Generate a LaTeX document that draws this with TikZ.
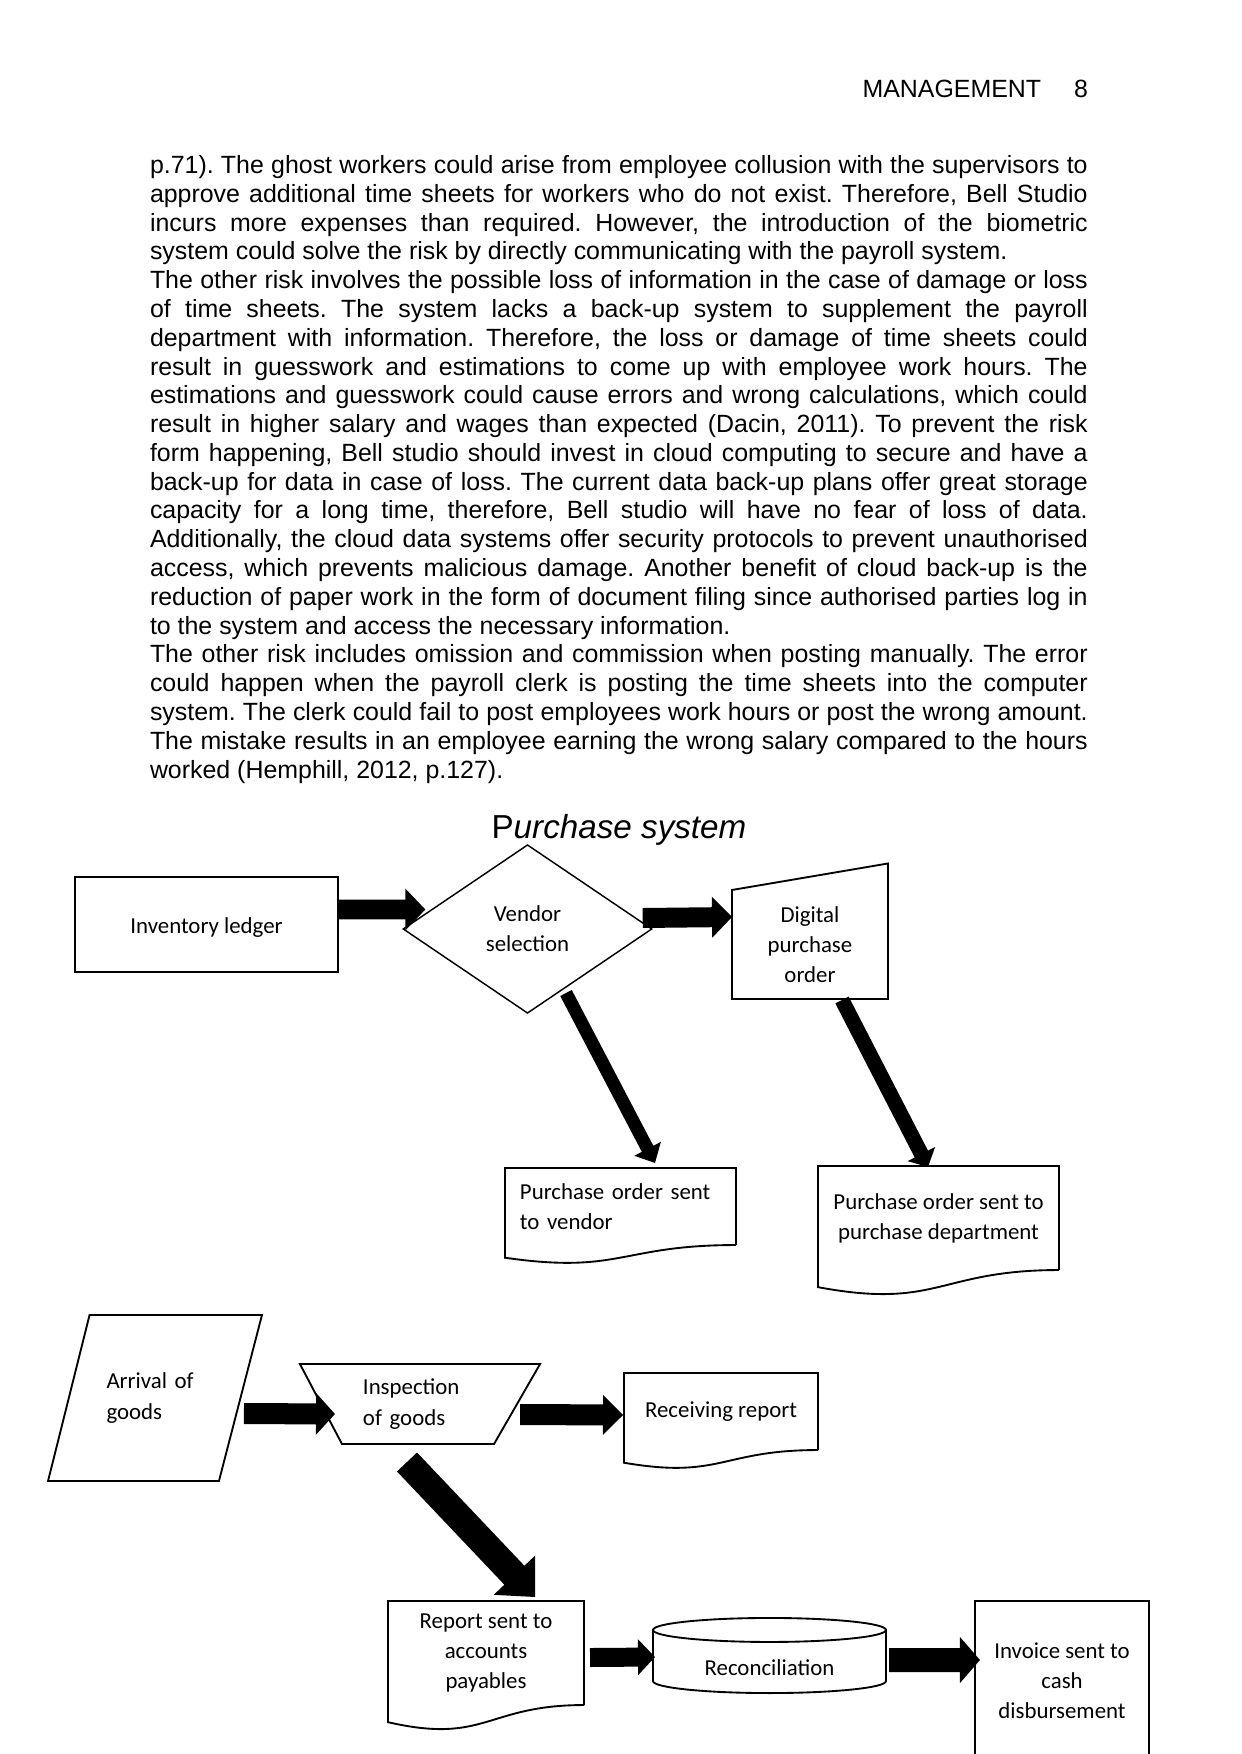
\documentclass[tikz,border=0pt]{standalone}
\usepackage{fontspec}
\setmainfont{Liberation Sans}
\newfontfamily\boxfont{Carlito}
\usetikzlibrary{shapes.geometric,calc}

% outlines drawn round plain nodes
\newcommand\docshape[1]{\draw[outline] (#1.south east) -- (#1.north east) -- (#1.north west)
  -- ($(#1.south west)!-0.1646!(#1.north west)$)
  .. controls ($(#1.south)!-0.3809!(#1.north)$) and (#1.south) .. (#1.south east);}
\newcommand\manualin[1]{\draw[outline] (#1.south west) -- (#1.north west)
  -- ($(#1.north east)+(0,-26.5)$) -- (#1.south east) -- cycle;}
\newcommand\cylshape[1]{\draw[outline] ($(#1.north)+(0,-12)$) ellipse [x radius=116.5,y radius=12];
  \draw[outline] ($(#1.north west)+(0,-12)$) -- ($(#1.south west)+(0,-12)$)
  arc[start angle=180,end angle=0,x radius=116.5,y radius=12] -- ($(#1.north east)+(0,-12)$);}
% fat arrow: start, tip, half shaft, half head, head length
\newcommand\blockarrow[5]{\path #1 coordinate (ba-s) #2 coordinate (ba-e);
  \path ($(ba-e)!#5!(ba-s)$) coordinate (ba-b);
  \fill ($(ba-s)!#3!90:(ba-e)$) -- ($(ba-b)!#3!90:(ba-e)$) -- ($(ba-b)!#4!90:(ba-e)$)
  -- (ba-e) -- ($(ba-b)!#4!-90:(ba-e)$) -- ($(ba-b)!#3!-90:(ba-e)$)
  -- ($(ba-s)!#3!-90:(ba-e)$) -- cycle;}

\begin{document}
\begin{tikzpicture}[x=0.48147pt,y=-0.48147pt,
  outline/.style={draw=black,line width=0.9pt},
  boxtxt/.style={font=\boxfont\fontsize{11pt}{14.5pt}\selectfont,align=center},
  every node/.style={inner sep=0pt,outer sep=0pt}]
\useasboundingbox (0,0) rectangle (1241,1754);
\clip (0,0) rectangle (1241,1754);
\fill[white] (0,0) rectangle (1241,1754);
\node[anchor=base east,font=\fontsize{12pt}{13.8pt}\selectfont] (head) at (1088,98)
 {MANAGEMENT\hspace{15.9pt}8};
\node[anchor=north west,text width=451.5pt,align=justify,
 font=\fontsize{12pt}{13.86pt}\selectfont] (body) at (150,153.4)
 {\parindent=0pt\parskip=0pt\hyphenpenalty=10000\exhyphenpenalty=10000\tolerance=10000
 \frenchspacing
 \strut p.71). The ghost workers could arise from employee collusion with the supervisors to\linebreak
 approve additional time sheets for workers who do not exist. Therefore, Bell Studio\linebreak
 incurs more expenses than required. However, the introduction of the biometric\linebreak
 system could solve the risk by directly communicating with the payroll system.\par
 The other risk involves the possible loss of information in the case of damage or loss\linebreak
 of time sheets. The system lacks a back-up system to supplement the payroll\linebreak
 department with information. Therefore, the loss or damage of time sheets could\linebreak
 result in guesswork and estimations to come up with employee work hours. The\linebreak
 estimations and guesswork could cause errors and wrong calculations, which could\linebreak
 result in higher salary and wages than expected (Dacin, 2011). To prevent the risk\linebreak
 form happening, Bell studio should invest in cloud computing to secure and have a\linebreak
 back-up for data in case of loss. The current data back-up plans offer great storage\linebreak
 capacity for a long time, therefore, Bell studio will have no fear of loss of data.\linebreak
 Additionally, the cloud data systems offer security protocols to prevent unauthorised\linebreak
 access, which prevents malicious damage. Another benefit of cloud back-up is the\linebreak
 reduction of paper work in the form of document filing since authorised parties log in\linebreak
 to the system and access the necessary information.\par
 The other risk includes omission and commission when posting manually. The error\linebreak
 could happen when the payroll clerk is posting the time sheets into the computer\linebreak
 system. The clerk could fail to post employees work hours or post the wrong amount.\linebreak
 The mistake results in an employee earning the wrong salary compared to the hours\linebreak
 worked (Hemphill, 2012, p.127).\par};
\node[anchor=base,font=\fontsize{16pt}{19pt}\selectfont] (title) at (619,838)
 {P\textit{urchase system}};
% purchase side
\node[boxtxt,outline,minimum width=126.6pt,minimum height=45.7pt,text height=11pt,
 text depth=2.5pt] (inv) at (206.5,924.5) {Inventory ledger};
\node[boxtxt,outline,line width=0.7pt,diamond,minimum width=119.6pt,minimum height=80.9pt]
 (vsel) at (527.5,929) {Vendor\\selection};
\node[boxtxt,minimum width=75.1pt,minimum height=52.5pt] (dpo) at (810,944.5)
 {Digital\\purchase\\order};
\node[boxtxt,minimum width=111.2pt,minimum height=37.1pt,text width=96.8pt,align=left]
 (posv) at (620.5,1206.5) {Purchase order sent\\to vendor};
\node[boxtxt,minimum width=116pt,minimum height=50.1pt] (posd) at (938.5,1218)
 {Purchase order sent to\\purchase department};
\manualin{dpo}
\docshape{posv}
\docshape{posd}
% receiving side
\node[boxtxt,minimum width=103pt,minimum height=79.9pt,text width=46.7pt,align=left]
 (arr) at (155,1398) {Arrival of\\goods};
\node[boxtxt,minimum width=115.6pt,minimum height=38.5pt,text width=54.9pt,align=left]
 (insp) at (420,1404) {Inspection\\of goods};
\node[boxtxt,minimum width=93.4pt,minimum height=37.1pt] (recv) at (721,1411.5)
 {Receiving report};
\node[boxtxt,minimum width=94.4pt,minimum height=50.1pt] (rep) at (486,1653)
 {Report sent to\\accounts\\payables};
\node[boxtxt,minimum width=112.2pt,minimum height=24.6pt] (rec) at (769.5,1667.5)
 {Reconciliation};
\node[boxtxt,outline,minimum width=83.8pt,minimum height=77pt] (invc) at (1062,1681)
 {Invoice sent to\\cash\\disbursement};
\draw[outline] ($(arr.north west)+(41.5,0)$) -- (arr.north east)
 -- ($(arr.south east)+(-43,0)$) -- (arr.south west) -- cycle;
\draw[outline] (insp.north west) -- (insp.north east)
 -- ($(insp.south east)+(-46,0)$) -- ($(insp.south west)+(42,0)$) -- cycle;
\docshape{recv}
\docshape{rep}
\cylshape{rec}
% arrows
\blockarrow{($(inv.east)+(0,-15)$)}{($(vsel.west)+(22,-19.5)$)}{4.81pt}{10.11pt}{9.63pt}
\blockarrow{($(vsel.east)+(-9,-11)$)}{($(dpo.west)+(0,-27.5)$)}{4.81pt}{9.87pt}{9.63pt}
\blockarrow{($(vsel.south)+(38.5,-20)$)}{($(posv.north)+(34.5,-5)$)}{3.13pt}{7.22pt}{7.7pt}
\blockarrow{($(dpo.south)+(32,1)$)}{($(posd.north)+(-10.5,1)$)}{3.6pt}{7.46pt}{7pt}
\blockarrow{($(arr.east)+(-18,15.5)$)}{($(insp.west)+(35,10)$)}{5.06pt}{10.11pt}{9.15pt}
\blockarrow{($(insp.east)+(-20,10.5)$)}{($(recv.west)+(-1,3.5)$)}{5.06pt}{9.63pt}{9.63pt}
\blockarrow{($(insp.south)+(-13,18)$)}{($(rep.north)+(49,-4)$)}{6.64pt}{13.72pt}{14.44pt}
\blockarrow{($(rep.east)+(6,4.5)$)}{($(rec.west)+(2,-10.5)$)}{4.57pt}{8.67pt}{8.18pt}
\blockarrow{($(rec.east)+(3,-7.5)$)}{($(invc.west)+(5,-21)$)}{5.78pt}{11.07pt}{9.63pt}
\end{tikzpicture}
\end{document}
